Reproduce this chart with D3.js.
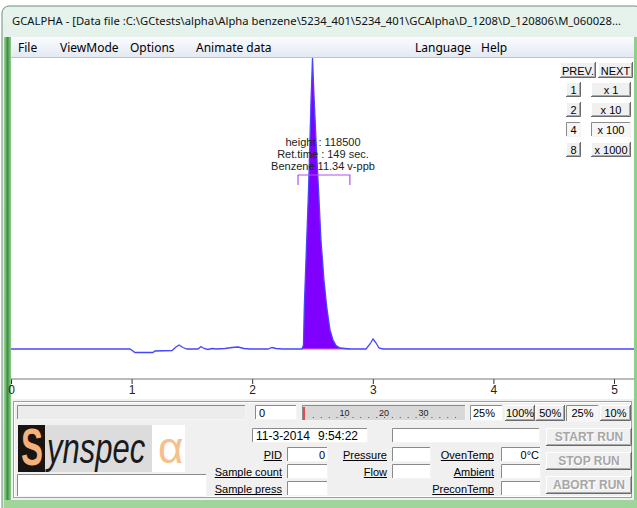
<!DOCTYPE html>
<html>
<head>
<meta charset="utf-8">
<script src="https://cdn.jsdelivr.net/npm/d3@7"></script>
<style>
  body { margin: 0; background: #fff; }
  text { font-family: "Liberation Sans", Arial, sans-serif; }
</style>
</head>
<body>
<div id="chart"></div>
<script>
// chromatogram trace, time in minutes, signal in counts
var times = [0, 0.987, 1.028, 1.177, 1.194, 1.335, 1.368, 1.393, 1.426, 1.459, 1.551, 1.575, 1.600, 1.633, 1.667, 1.700,
  1.774, 1.833, 1.882, 1.932, 1.982, 2.131, 2.164, 2.197, 2.255, 2.413, 2.425, 2.432, 2.452, 2.467, 2.479, 2.488,
  2.500, 2.512, 2.529, 2.550, 2.570, 2.595, 2.618, 2.645, 2.670, 2.695, 2.728, 2.769, 2.811, 2.944, 2.977, 3.002,
  3.027, 3.051, 3.085, 5.166];
var signal = [0, 0, -1425, -1425, -814, -611, 814, 1629, 611, 0, 0, 1018, 204, -204, 204, 0,
  204, 611, 814, 204, 0, 0, 611, 204, 0, 0, 1629, 17100, 44390, 64740, 85100, 101390,
  118500, 103430, 85100, 64740, 44390, 28100, 17100, 7740, 3660, 1425, 407, 204, 0, 0, 2036, 4070,
  2440, 407, 0, 0];
var xTicks = [0, 1, 2, 3, 4, 5];

// integrated peak
var peakWindow = [2.413, 2.811];
var bracketTimes = [2.38, 2.81];
var bracketLevel = 70850;
var peakLabelTime = 2.587;
var peakLabels = ["height : 118500", "Ret.time : 149 sec.", "Benzene 11.34 v-ppb"];

var titleText = "GCALPHA - [Data file :C:\\GCtests\\alpha\\Alpha benzene\\5234_401\\5234_401\\GCAlpha\\D_1208\\D_120806\\M_060028...";
var menuItems = ["File", "ViewMode", "Options", "Animate data", "Language", "Help"];
var menuX = [18, 60, 130, 196, 415, 481];

var zoomLeft = ["1", "2", "4", "8"];
var zoomRight = ["x 1", "x 10", "x 100", "x 1000"];
var zoomPressed = 2;

var rulerTicks = [10, 20, 30];
var speedButtons = ["100%", "50%", "25%", "10%"];

var data = times.map(function(t, i) { return {t: t, s: signal[i]}; });

var svg_width = 637, svg_height = 508;
var plot = {left: 11, right: 634, top: 57, bottom: 399, axisY: 379};

var svg = d3.select("#chart").append("svg")
  .attr("width", svg_width)
  .attr("height", svg_height);

var defs = svg.append("defs");
var tg = defs.append("linearGradient").attr("id", "titleGrad").attr("x1", 0).attr("y1", 0).attr("x2", 0).attr("y2", 1);
tg.append("stop").attr("offset", "0%").attr("stop-color", "#e6f3ec");
tg.append("stop").attr("offset", "100%").attr("stop-color", "#d2e8da");
var mg = defs.append("linearGradient").attr("id", "menuGrad").attr("x1", 0).attr("y1", 0).attr("x2", 0).attr("y2", 1);
mg.append("stop").attr("offset", "0%").attr("stop-color", "#fbfcfe");
mg.append("stop").attr("offset", "100%").attr("stop-color", "#e3e9f3");
var fg = defs.append("linearGradient").attr("id", "frameGrad").attr("x1", 0).attr("y1", 0).attr("x2", 1).attr("y2", 0);
fg.append("stop").attr("offset", "0%").attr("stop-color", "#9fd79a");
fg.append("stop").attr("offset", "50%").attr("stop-color", "#3f8f45");
fg.append("stop").attr("offset", "100%").attr("stop-color", "#8fcf8c");

// window frame
svg.append("rect").attr("x", 2).attr("y", 6).attr("width", 640).attr("height", 510)
  .attr("rx", 7).attr("fill", "url(#titleGrad)").attr("stroke", "#6f8f7a");
svg.append("rect").attr("x", 4).attr("y", 37).attr("width", 7).attr("height", 471).attr("fill", "url(#frameGrad)");
svg.append("rect").attr("x", 634).attr("y", 37).attr("width", 3).attr("height", 471).attr("fill", "#8fcf8c");
svg.append("rect").attr("x", 4).attr("y", 500).attr("width", 633).attr("height", 8).attr("fill", "#9fd49a");

// title: shrink the font until it fits the bar
var title = svg.append("text").attr("x", 12).attr("y", 25)
  .style("font-family", "'Noto Sans', 'Open Sans', sans-serif").style("font-size", "12px").attr("fill", "#111")
  .text(titleText);
var tsize = 12;
while (title.node().getComputedTextLength() > 612 && tsize > 8) {
  tsize -= 0.25;
  title.style("font-size", tsize + "px");
}

// menu bar
svg.append("rect").attr("x", 11).attr("y", 37).attr("width", 623).attr("height", 20).attr("fill", "url(#menuGrad)");
svg.selectAll(".menu").data(menuItems).enter().append("text")
  .attr("x", (d, i) => menuX[i]).attr("y", 52)
  .style("font-family", "'Noto Sans', 'Open Sans', sans-serif").style("font-size", "12px").attr("fill", "#000")
  .text(d => d);

// plot area
svg.append("rect").attr("x", plot.left).attr("y", plot.top).attr("width", plot.right - plot.left)
  .attr("height", plot.bottom - plot.top).attr("fill", "#fff");
svg.append("line").attr("x1", plot.left).attr("x2", plot.right).attr("y1", plot.top + 0.5).attr("y2", plot.top + 0.5)
  .attr("stroke", "#b8c4d4");

defs.append("clipPath").attr("id", "plotClip").append("rect")
  .attr("x", plot.left).attr("y", plot.top + 1).attr("width", plot.right - plot.left).attr("height", plot.axisY - plot.top - 1);

var x_scale = d3.scaleLinear().domain([0, 5]).range([11, 614]);
var y_scale = d3.scaleLinear().domain([0, 118500]).range([349, 58]);

var chartGroup = svg.append("g").attr("clip-path", "url(#plotClip)");

var peakData = data.filter(d => d.t >= peakWindow[0] && d.t <= peakWindow[1]);
chartGroup.append("path").datum(peakData)
  .attr("d", d3.area().x(d => x_scale(d.t)).y0(y_scale(0)).y1(d => y_scale(d.s)))
  .attr("fill", "#7f00ff");
chartGroup.append("line")
  .attr("x1", x_scale(peakWindow[0])).attr("x2", x_scale(peakWindow[1]))
  .attr("y1", y_scale(0)).attr("y2", y_scale(0))
  .attr("stroke", "#d060e8").attr("stroke-width", 1.2);

chartGroup.append("path").datum(data)
  .attr("d", d3.line().x(d => x_scale(d.t)).y(d => y_scale(d.s)))
  .attr("fill", "none").attr("stroke", "#4646ff").attr("stroke-width", 1.3);

// bracket for the integration window
var by = y_scale(bracketLevel);
chartGroup.append("path")
  .attr("d", "M" + x_scale(bracketTimes[0]) + "," + (by + 10) + "V" + by + "H" + x_scale(bracketTimes[1]) + "V" + (by + 10))
  .attr("fill", "none").attr("stroke", "#b050ee").attr("stroke-width", 1.2);

chartGroup.selectAll(".plabel").data(peakLabels).enter().append("text")
  .attr("x", x_scale(peakLabelTime)).attr("y", (d, i) => 146 + i * 12)
  .attr("text-anchor", "middle").style("font-size", "11px").attr("fill", "#222")
  .text(d => d);

// x axis
var bottom_axis = d3.axisBottom(x_scale).tickValues(xTicks).tickSize(5).tickPadding(1).tickFormat(d3.format("d"));
var axisG = svg.append("g").attr("transform", `translate(0,${plot.axisY})`).call(bottom_axis);
axisG.select(".domain").remove();
axisG.append("line").attr("x1", plot.left).attr("x2", plot.right).attr("stroke", "#777");
axisG.selectAll(".tick line").attr("stroke", "#333");
axisG.selectAll(".tick text").style("font-size", "12px").attr("fill", "#222")
  .style("font-family", "'Liberation Sans Narrow', 'Liberation Sans', sans-serif");

// helpers for the windows controls
function raised(x, y, w, h) {
  var g = svg.append("g");
  g.append("rect").attr("x", x).attr("y", y).attr("width", w).attr("height", h).attr("fill", "#f0f0f0");
  g.append("path").attr("d", `M${x + 0.5},${y + h}V${y + 0.5}H${x + w}`).attr("fill", "none").attr("stroke", "#fff");
  g.append("path").attr("d", `M${x},${y + h - 0.5}H${x + w - 0.5}V${y}`).attr("fill", "none").attr("stroke", "#6a6a6a");
  g.append("path").attr("d", `M${x + 1},${y + h - 1.5}H${x + w - 1.5}V${y + 1}`).attr("fill", "none").attr("stroke", "#a8a8a8");
  return g;
}
function sunken(x, y, w, h, fill) {
  var g = svg.append("g");
  g.append("rect").attr("x", x).attr("y", y).attr("width", w).attr("height", h).attr("fill", fill || "#fff");
  g.append("path").attr("d", `M${x + 0.5},${y + h}V${y + 0.5}H${x + w}`).attr("fill", "none").attr("stroke", "#8a8a8a");
  g.append("path").attr("d", `M${x},${y + h - 0.5}H${x + w - 0.5}V${y}`).attr("fill", "none").attr("stroke", "#f4f4f4");
  return g;
}
function label(x, y, txt, anchor, size) {
  return svg.append("text").attr("x", x).attr("y", y).attr("text-anchor", anchor || "start")
    .style("font-size", (size || 11) + "px").attr("fill", "#000").text(txt);
}

// zoom buttons on the right of the plot
raised(560, 62, 36, 16); label(578, 74.5, "PREV.", "middle", 11);
raised(598, 62, 35, 16); label(615.5, 74.5, "NEXT", "middle", 11);
zoomLeft.forEach(function(d, i) {
  var yy = 82 + i * 20;
  if (i == zoomPressed) {
    sunken(566, yy, 15, 15, "#f6f6f6");
    sunken(591, yy, 40, 15, "#f6f6f6");
  } else {
    raised(566, yy, 15, 15);
    raised(591, yy, 40, 15);
  }
  label(573.5, yy + 11.5, d, "middle", 11);
  label(611, yy + 11.5, zoomRight[i], "middle", 11);
});

// bottom control panel
svg.append("rect").attr("x", plot.left).attr("y", 399).attr("width", plot.right - plot.left).attr("height", 101).attr("fill", "#f0f0f0");
svg.append("rect").attr("x", 13.5).attr("y", 401.5).attr("width", 618).attr("height", 96).attr("fill", "none").attr("stroke", "#a0a0a0");
svg.append("rect").attr("x", 14.5).attr("y", 402.5).attr("width", 616).attr("height", 94).attr("fill", "none").attr("stroke", "#fff");

sunken(17, 405, 229, 15, "#ececec");
sunken(255, 405, 42, 15); label(259, 416.5, "0");

// progress ruler
var ruler_scale = d3.scaleLinear().domain([0, 40]).range([305, 463]);
sunken(302, 405, 164, 16, "#d8d8d8");
svg.append("line").attr("x1", 304).attr("x2", 304).attr("y1", 407).attr("y2", 420).attr("stroke", "#e02020").attr("stroke-width", 1.5);
svg.selectAll(".rdot").data(d3.range(2, 40, 2)).enter().append("rect")
  .attr("x", d => ruler_scale(d)).attr("y", 417).attr("width", 1).attr("height", 1).attr("fill", "#555");
svg.selectAll(".rlab").data(rulerTicks).enter().append("text")
  .attr("x", d => ruler_scale(d)).attr("y", 416).attr("text-anchor", "middle")
  .style("font-size", "9px").attr("fill", "#222").text(d => d);

sunken(470, 405, 33, 16); label(473, 416.5, "25%");
var speedX = [505, 535.5, 566, 600];
var speedW = [30, 29.5, 33, 31];
speedButtons.forEach(function(d, i) {
  if (i == 2) sunken(speedX[i], 405, speedW[i], 17, "#f6f6f6");
  else raised(speedX[i], 405, speedW[i], 16);
  label(speedX[i] + speedW[i] / 2, 417, d, "middle", 11);
});

// logo, glyphs stretched vertically so their boxes do not run into each other
svg.append("rect").attr("x", 18).attr("y", 425).attr("width", 27).attr("height", 47).attr("fill", "#1a1410");
svg.append("rect").attr("x", 45).attr("y", 425).attr("width", 107).attr("height", 47).attr("fill", "#dcdcdc");
svg.append("rect").attr("x", 152).attr("y", 425).attr("width", 33).attr("height", 47).attr("fill", "#fff");
svg.append("text").attr("transform", "translate(21,465) scale(1,1.55)")
  .style("font-size", "33px").style("font-weight", "bold").attr("fill", "#f4b27a").text("S");
svg.append("text").attr("transform", "translate(47,463) scale(1,1.35)")
  .style("font-size", "31px").style("font-style", "italic").attr("fill", "#1a1a1a").text("ynspec");
svg.append("text").attr("transform", "translate(158,463)")
  .style("font-size", "44px").attr("fill", "#f6c08c").text("α");
sunken(17, 474, 190, 23);

// date and status fields
sunken(252, 428, 116, 15); label(256, 440, "11-3-2014", "start", 12);
label(318, 440, "9:54:22", "start", 12);
sunken(392, 428, 148, 15);

var fieldRows = [447, 464, 481];
var leftLabels = ["PID", "Sample count", "Sample press"];
var midLabels = ["Pressure", "Flow"];
var rightLabels = ["OvenTemp", "Ambient", "PreconTemp"];
function underlined(x, y, txt) {
  var t = label(x, y, txt, "end", 11);
  var w = t.node().getComputedTextLength();
  svg.append("line").attr("x1", x - w).attr("x2", x).attr("y1", y + 1.5).attr("y2", y + 1.5).attr("stroke", "#000");
}
leftLabels.forEach(function(d, i) {
  underlined(282, fieldRows[i] + 12, d);
  sunken(287, fieldRows[i], 41, 15);
});
label(325, fieldRows[0] + 11.5, "0", "end");
midLabels.forEach(function(d, i) {
  underlined(387, fieldRows[i] + 12, d);
  sunken(392, fieldRows[i], 39, 15);
});
rightLabels.forEach(function(d, i) {
  underlined(494, fieldRows[i] + 12, d);
  sunken(501, fieldRows[i], 40, 15);
});
label(539, fieldRows[0] + 11.5, "0°C", "end");

// run buttons, disabled
var runButtons = ["START RUN", "STOP RUN", "ABORT RUN"];
runButtons.forEach(function(d, i) {
  var yy = 428 + i * 24;
  raised(546, yy, 86, 18);
  svg.append("text").attr("x", 590).attr("y", yy + 14).attr("text-anchor", "middle")
    .style("font-size", "12px").style("font-weight", "bold").attr("fill", "#fff").text(d);
  svg.append("text").attr("x", 589).attr("y", yy + 13).attr("text-anchor", "middle")
    .style("font-size", "12px").style("font-weight", "bold").attr("fill", "#a6a6a6").text(d);
});
</script>
</body>
</html>
